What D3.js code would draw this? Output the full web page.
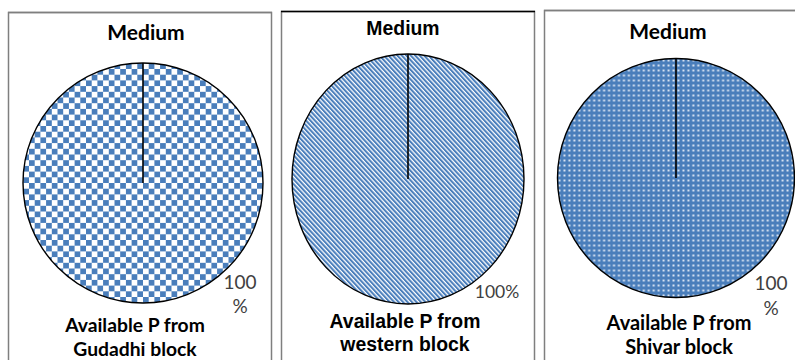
<!DOCTYPE html>
<html>
<head>
<meta charset="utf-8">
<script src="https://cdn.jsdelivr.net/npm/d3@7"></script>
<style>
  html, body { margin: 0; padding: 0; background: #fff; }
  svg { display: block; }
</style>
</head>
<body>
<svg id="chart" width="795" height="360"></svg>
<script>
// ---- data ----
const panelTitles = ["Medium", "Medium", "Medium"];
const blockNames = ["Gudadhi block", "western block", "Shivar block"];
const categories = ["Medium"];
const gudadhiValues = [100];
const westernValues = [100];
const shivarValues = [100];
const percentLabels = [["100", "%"], ["100%"], ["100", "%"]];

const seriesList = [gudadhiValues, westernValues, shivarValues];

// ---- layout ----
const lato = "Lato, 'Open Sans', sans-serif";
const arial = "'Liberation Sans', Arial, sans-serif";
const layout = [
  { box: [8, 12, 263, 400], cx: 143, cy: 183, rx: 120, ry: 120, pattern: "checker",
    titleX: 146, titleY: 40, titleSize: 21, titleFont: lato,
    pct: [{x: 240, y: 289}, {x: 240, y: 313}], pctSize: 19,
    lab: [{x: 135, y: 332}, {x: 135, y: 356}], labSize: 19.3, labFont: lato, topStroke: "#7f7f7f" },
  { box: [281, 11, 253, 400], cx: 408, cy: 179, rx: 116, ry: 125, pattern: "diag",
    titleX: 403, titleY: 35, titleSize: 19.4, titleFont: arial,
    pct: [{x: 497, y: 298}], pctSize: 17.5,
    lab: [{x: 405, y: 328}, {x: 405, y: 351}], labSize: 19.4, labFont: arial, topStroke: "#000" },
  { box: [544, 10, 260, 400], cx: 676, cy: 178, rx: 118.5, ry: 119.5, pattern: "dots",
    titleX: 668, titleY: 39, titleSize: 21, titleFont: lato,
    pct: [{x: 771, y: 290}, {x: 771, y: 315}], pctSize: 19,
    lab: [{x: 679, y: 330}, {x: 679, y: 354}], labSize: 20, labFont: lato, topStroke: "#7f7f7f" }
];

const blue = "#4a7ebb";
const svg = d3.select("#chart");
const defs = svg.append("defs");

// checkerboard
const p1 = defs.append("pattern").attr("id", "checker").attr("patternUnits", "userSpaceOnUse")
  .attr("width", 11.4).attr("height", 11.4).attr("x", 0).attr("y", 0);
p1.append("rect").attr("width", 11.4).attr("height", 11.4).attr("fill", "#fff");
p1.append("rect").attr("width", 5.7).attr("height", 5.7).attr("fill", blue);
p1.append("rect").attr("x", 5.7).attr("y", 5.7).attr("width", 5.7).attr("height", 5.7).attr("fill", blue);

// diagonal stripes (down-right)
const p2 = defs.append("pattern").attr("id", "diag").attr("patternUnits", "userSpaceOnUse")
  .attr("width", 3.4).attr("height", 3.4).attr("patternTransform", "rotate(-45)");
p2.append("rect").attr("width", 3.4).attr("height", 3.4).attr("fill", "#fff");
p2.append("rect").attr("width", 2.1).attr("height", 3.4).attr("fill", blue);

// dotted
const p3 = defs.append("pattern").attr("id", "dots").attr("patternUnits", "userSpaceOnUse")
  .attr("width", 5).attr("height", 5);
p3.append("rect").attr("width", 5).attr("height", 5).attr("fill", blue);
p3.append("rect").attr("x", 1.5).attr("y", 1.5).attr("width", 2).attr("height", 2).attr("fill", "#dbe5f3");

const pie = d3.pie().sort(null);

layout.forEach((L, i) => {
  const g = svg.append("g");
  const [bx, by, bw, bh] = L.box;
  g.append("rect").attr("x", bx + 0.5).attr("y", by + 0.5).attr("width", bw).attr("height", bh)
    .attr("fill", "#fff").attr("stroke", "#7f7f7f").attr("stroke-width", 1.5);
  g.append("line").attr("x1", bx).attr("x2", bx + bw + 1).attr("y1", by + 0.5).attr("y2", by + 0.5)
    .attr("stroke", L.topStroke).attr("stroke-width", 1.5);

  g.append("text").attr("x", L.titleX).attr("y", L.titleY).attr("text-anchor", "middle")
    .attr("font-family", L.titleFont).attr("font-weight", "bold").attr("font-size", L.titleSize)
    .attr("fill", "#000").text(panelTitles[i]);

  const r = L.ry;
  const arc = d3.arc().innerRadius(0).outerRadius(r);
  const arcs = pie(seriesList[i]);
  const pg = g.append("g").attr("transform", `translate(${L.cx},${L.cy}) scale(${L.rx / L.ry},1)`);
  pg.selectAll("path.slice").data(arcs).enter().append("path").attr("class", "slice")
    .attr("d", arc).attr("fill", `url(#${L.pattern})`)
    .attr("stroke", "#000").attr("stroke-width", 1.4).attr("vector-effect", "non-scaling-stroke");
  pg.selectAll("line.edge").data(arcs).enter().append("line").attr("class", "edge")
    .attr("x1", 0).attr("y1", 0)
    .attr("x2", d => r * Math.sin(d.startAngle)).attr("y2", d => -r * Math.cos(d.startAngle))
    .attr("stroke", "#000").attr("stroke-width", 1.6).attr("vector-effect", "non-scaling-stroke");

  percentLabels[i].forEach((t, k) => {
    g.append("text").attr("x", L.pct[k].x).attr("y", L.pct[k].y).attr("text-anchor", "middle")
      .attr("font-family", lato).attr("font-size", L.pctSize).attr("fill", "#404040").text(t);
  });

  const lines = ["Available P from", blockNames[i]];
  lines.forEach((t, k) => {
    g.append("text").attr("x", L.lab[k].x).attr("y", L.lab[k].y).attr("text-anchor", "middle")
      .attr("font-family", L.labFont).attr("font-weight", "bold").attr("font-size", L.labSize)
      .attr("fill", "#000").text(t);
  });
});
</script>
</body>
</html>
